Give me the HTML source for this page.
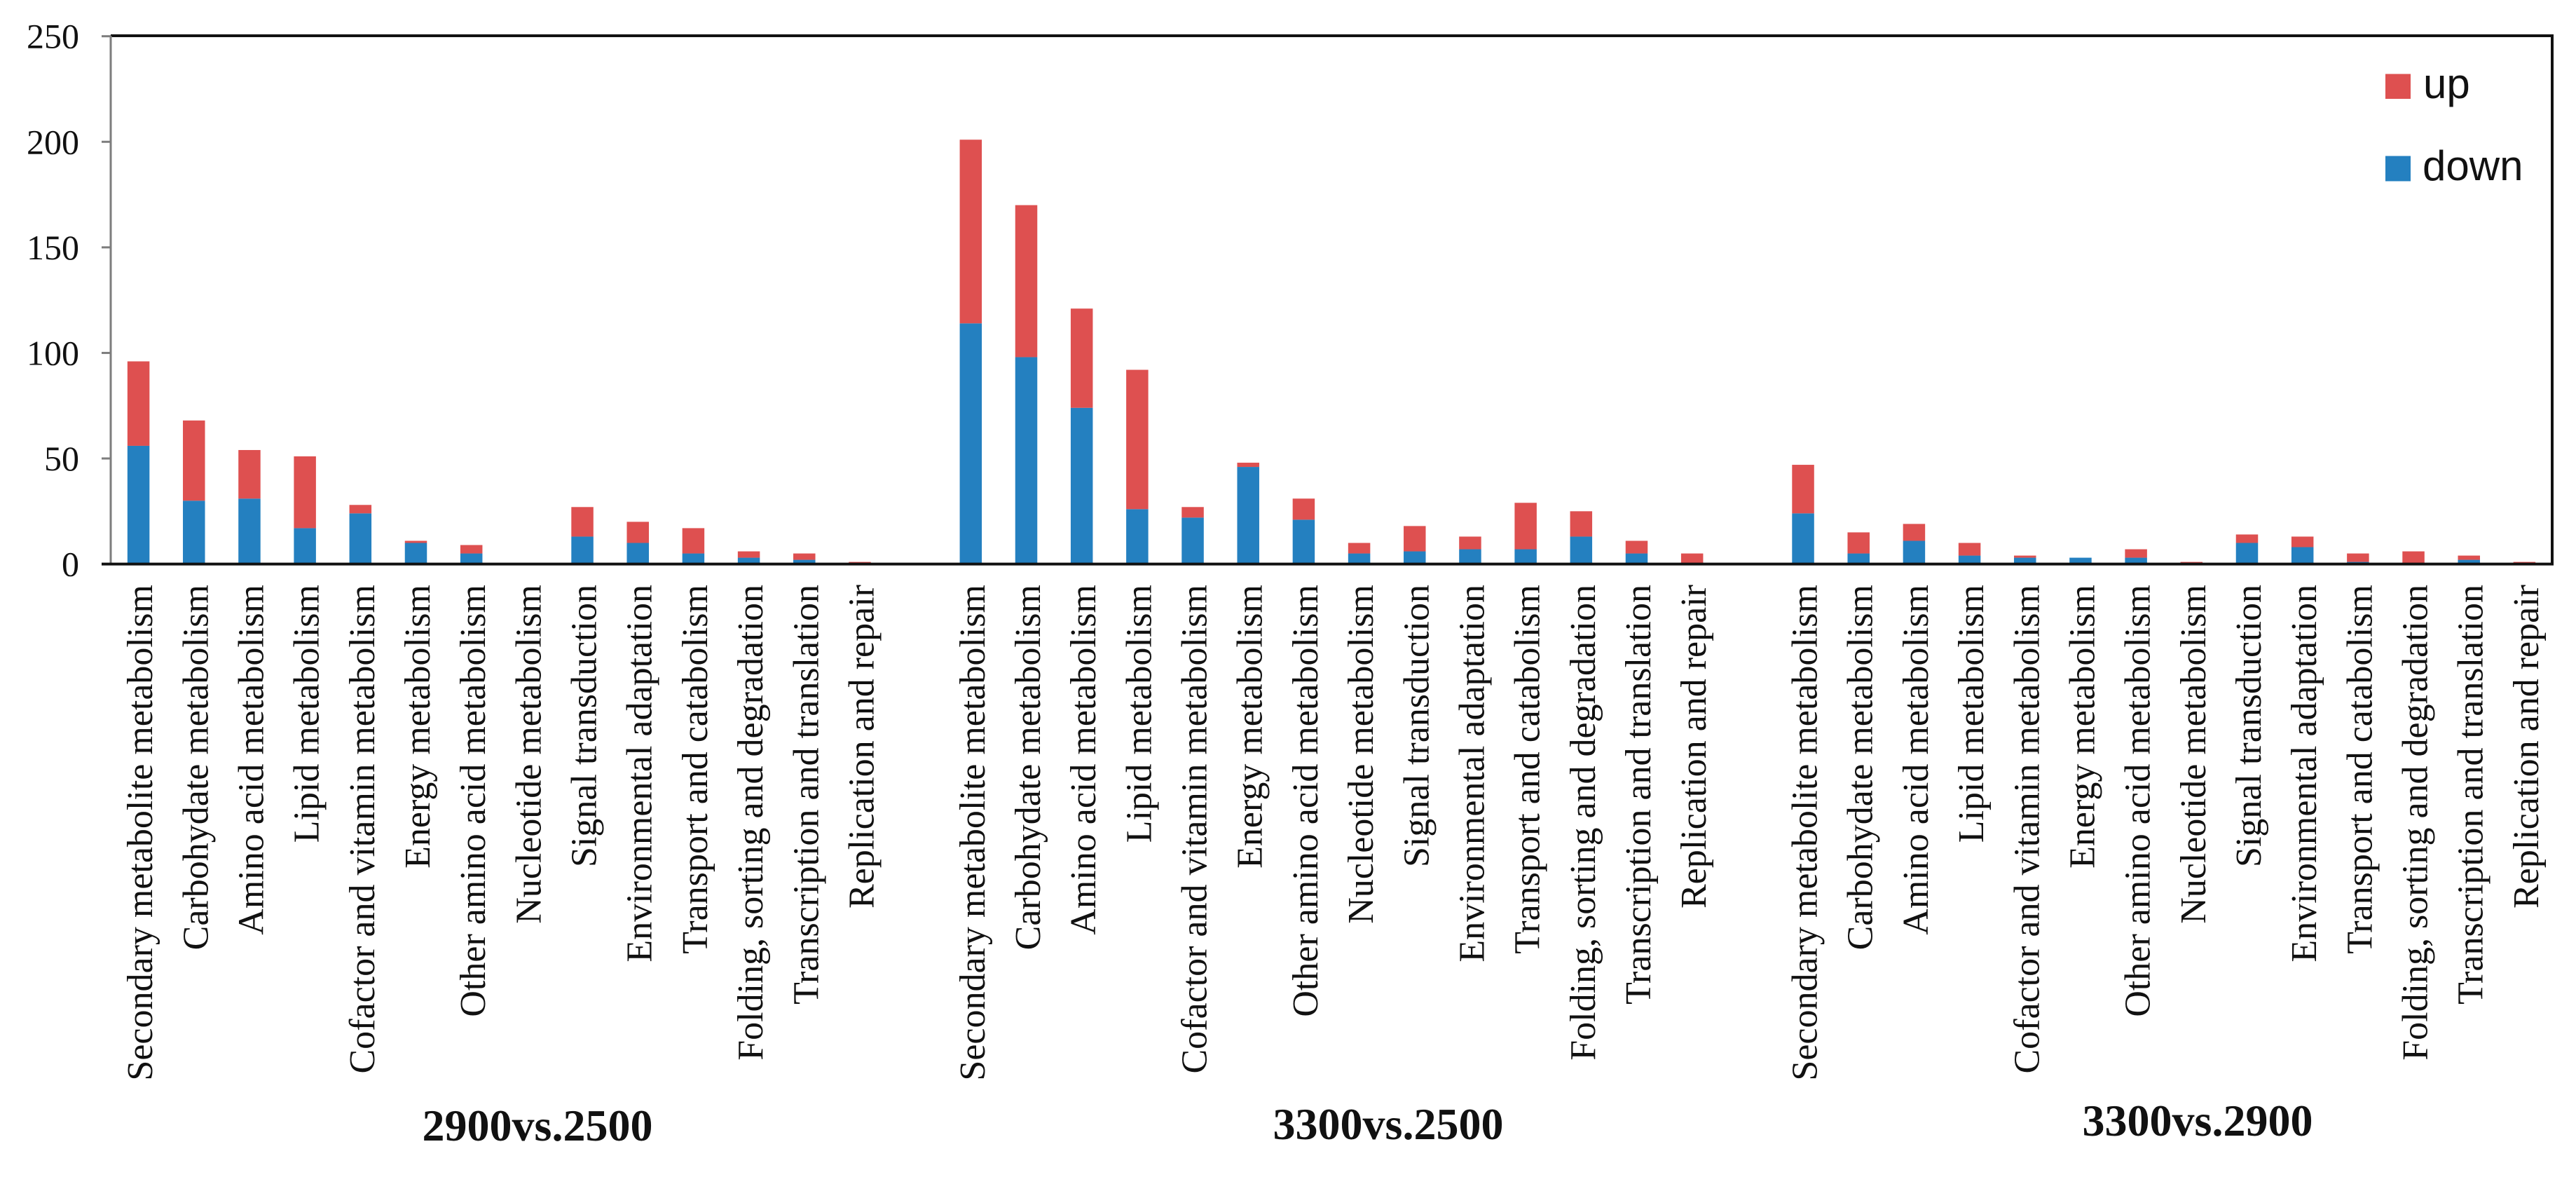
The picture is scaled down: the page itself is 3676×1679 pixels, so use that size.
<!DOCTYPE html>
<html lang="en">
<head>
<meta charset="utf-8">
<title>Stacked bar chart of up and down regulated pathways</title>
<style>
html,body{margin:0;padding:0;background:#fff;width:3676px;height:1679px;overflow:hidden}
svg{display:block}
text{font-family:"Liberation Serif",serif;fill:#111}
</style>
</head>
<body>
<svg id="chart" xmlns="http://www.w3.org/2000/svg" width="3676" height="1679" viewBox="0 0 3676 1679"></svg>
<script>
const categories = ["Secondary metabolite metabolism","Carbohydate metabolism","Amino acid metabolism","Lipid metabolism","Cofactor and vitamin metabolism","Energy metabolism","Other amino acid metabolism","Nucleotide metabolism","Signal transduction","Environmental adaptation","Transport and catabolism","Folding, sorting and degradation","Transcription and translation","Replication and repair"];
const groupNames = ["2900vs.2500","3300vs.2500","3300vs.2900"];
const yTicks = [0,50,100,150,200,250];
const down2900vs2500 = [56,30,31,17,24,10,5,0,13,10,5,3,2,0];
const up2900vs2500 = [40,38,23,34,4,1,4,0,14,10,12,3,3,1];
const down3300vs2500 = [114,98,74,26,22,46,21,5,6,7,7,13,5,0];
const up3300vs2500 = [87,72,47,66,5,2,10,5,12,6,22,12,6,5];
const down3300vs2900 = [24,5,11,4,3,3,3,0,10,8,1,0,2,0];
const up3300vs2900 = [23,10,8,6,1,0,4,1,4,5,4,6,2,1];

const NS = "http://www.w3.org/2000/svg";
const svg = document.getElementById("chart");
const RED = "#de5050", BLUE = "#2480c0";
const plotLeft = 158, plotRight = 3642, plotTop = 51, baseY = 804.6;
const unitsPerGroup = 15;
const slotCount = 44;
const slot = (plotRight - plotLeft) / slotCount;
function xPos(groupIndex, catIndex){ return plotLeft + slot * (groupIndex * unitsPerGroup + catIndex + 0.5); }
function yPos(v){ return baseY - v * (baseY - 51.7) / 250; }
function make(tag, attrs, text){
  const el = document.createElementNS(NS, tag);
  for (const k in attrs) el.setAttribute(k, attrs[k]);
  if (text !== undefined) el.textContent = text;
  svg.appendChild(el);
  return el;
}

const frameTop = make("line",{x1:plotLeft,x2:plotRight+2,y1:plotTop,y2:plotTop,stroke:"#111","stroke-width":4});


const frameRight = make("line",{x1:plotRight,x2:plotRight,y1:plotTop,y2:baseY,stroke:"#111","stroke-width":4});


const frameLeft = make("line",{x1:plotLeft,x2:plotLeft,y1:plotTop,y2:baseY,stroke:"#7d7d7d","stroke-width":3});



yTicks.forEach(function(t){
  const mark = make("line",{x1:plotLeft-13,x2:plotLeft,y1:yPos(t),y2:yPos(t),stroke:"#7d7d7d","stroke-width":3});
  
  
  const lab = make("text",{x:113,y:yPos(t)+17,"text-anchor":"end","font-size":50}, String(t));
  
  
});

const downSeries = [down2900vs2500, down3300vs2500, down3300vs2900];
const upSeries = [up2900vs2500, up3300vs2500, up3300vs2900];
const barWidth = 31.5;
groupNames.forEach(function(name, g){
  categories.forEach(function(cat, c){
    const d = downSeries[g][c], u = upSeries[g][c];
    const x = xPos(g, c);
    const key = name + '-' + cat.toLowerCase().replace(/[^a-z0-9]+/g, '-');
    const barDown = make("rect",{x:x-barWidth/2,width:barWidth,y:yPos(d),height:yPos(0)-yPos(d),fill:BLUE});
    
    
    const barUp = make("rect",{x:x-barWidth/2,width:barWidth,y:yPos(d+u),height:yPos(d)-yPos(d+u),fill:RED});
    
    
    const lab = make("text",{transform:"translate("+(x+19.5)+",834) rotate(-90)","text-anchor":"end","font-size":52}, cat);
    
    
  });
});

const base = make("line",{x1:plotLeft-13,x2:plotRight+2,y1:baseY,y2:baseY,stroke:"#111","stroke-width":4});



const titleX = [767, 1981, 3136];
const titleY = [1627, 1625, 1620];
groupNames.forEach(function(name, g){
  const t = make("text",{x:titleX[g],y:titleY[g],"text-anchor":"middle","font-size":64,"font-weight":"bold"}, name);
  
  
});

const swUp = make("rect",{x:3404,y:105.5,width:36,height:35.5,fill:RED});


const swDown = make("rect",{x:3404,y:222.5,width:36,height:36,fill:BLUE});


const lgUp = make("text",{x:3458,y:140,"font-size":60,style:"font-family:'Liberation Sans',sans-serif"}, "up");


const lgDown = make("text",{x:3457,y:257,"font-size":60,style:"font-family:'Liberation Sans',sans-serif"}, "down");


</script>
</body>
</html>
